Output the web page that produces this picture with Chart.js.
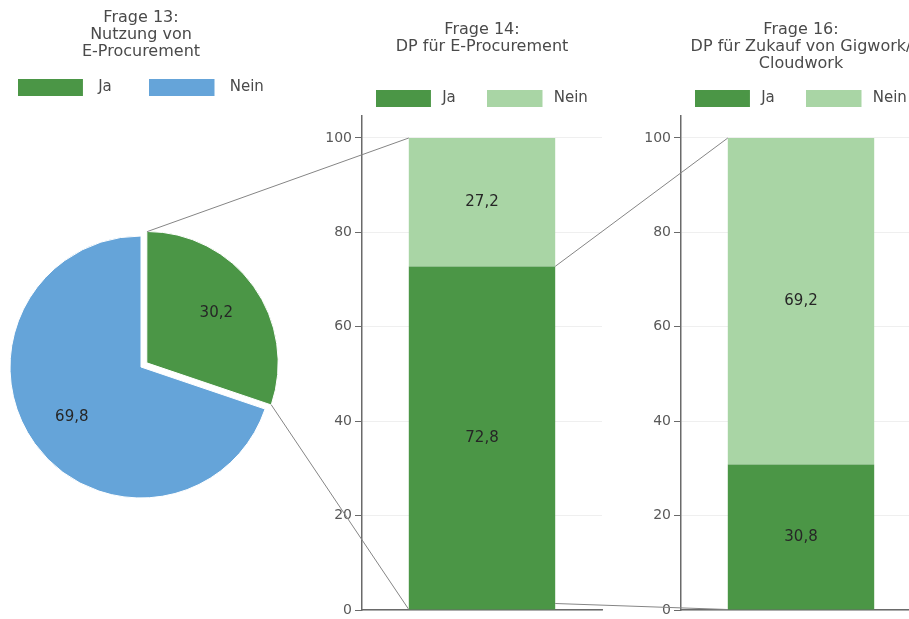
<!DOCTYPE html>
<html><head><meta charset="utf-8">
<script src="https://cdn.jsdelivr.net/npm/chart.js@4.4.1/dist/chart.umd.min.js"></script>
<style>
html,body{margin:0;padding:0;width:909px;height:619px;overflow:hidden;background:#fff;position:relative}
canvas{position:absolute;top:0}
#pie{left:-29px}
#bar1{left:300px}
#bar2{left:619px}
#links{left:0;pointer-events:none}
</style></head><body>
<canvas id="pie" width="340" height="629"></canvas>
<canvas id="bar1" width="364" height="630"></canvas>
<canvas id="bar2" width="364" height="630"></canvas>
<canvas id="links" width="909" height="619"></canvas>
<script>
// ---- data ----
const answerLabels = ['Ja', 'Nein'];
const q13Title = ['Frage 13:', 'Nutzung von', 'E-Procurement'];
const q14Title = ['Frage 14:', 'DP für E-Procurement'];
const q16Title = ['Frage 16:', 'DP für Zukauf von Gigwork/', 'Cloudwork'];
const q13Values = [30.2, 69.8];      // Ja, Nein
const q14Ja = [72.8];
const q14Nein = [27.2];
const q16Ja = [30.8];
const q16Nein = [69.2];
const yTicks = [0, 20, 40, 60, 80, 100];

// ---- style ----
const GREEN = '#4B9646', LIGHT = '#A9D5A5', BLUE = '#65A4D9';
const AXIS = '#6a6a6a', TXT = '#4a4a4a', TICK = '#595959', VAL = '#262626';
Chart.defaults.font.family = '"DejaVu Sans", sans-serif';
Chart.defaults.color = TXT;

function swatch(color, boxW, boxH, fullW) {
  const c = document.createElement('canvas');
  c.width = Math.ceil(fullW); c.height = boxH;
  const x = c.getContext('2d');
  x.fillStyle = color; x.fillRect(0, 0, boxW, boxH);
  return c;
}
function legendCfg(base, colors, boxW, gap, pad) {
  const pw = boxW + gap - 7.5;
  return {
    display: true, position: 'top',
    labels: {
      usePointStyle: true, pointStyleWidth: pw, padding: pad,
      font: { size: 15 }, color: TXT,
      generateLabels(chart) {
        return base(chart).map((it, i) => Object.assign({}, it, { pointStyle: swatch(colors[i], boxW, 17, pw) }));
      }
    }
  };
}
function titleCfg(text, top, bottom) {
  return { display: true, text, color: TXT, font: { size: 16, weight: 'normal', lineHeight: '17px' }, padding: { top, bottom } };
}
function arcShift(el) {
  const O = el.options.offset || 0;
  const fix = 1 - Math.sin(Math.min(Math.PI, el.circumference || 0));
  return O / 4 * (1 + fix);
}
const fmt = v => v.toFixed(1).replace('.', ',');

const valueLabels = {
  id: 'valueLabels',
  afterDatasetsDraw(chart) {
    const ctx = chart.ctx;
    ctx.save();
    ctx.font = '15px "DejaVu Sans", sans-serif';
    ctx.fillStyle = VAL; ctx.textAlign = 'center'; ctx.textBaseline = 'middle';
    chart.data.datasets.forEach((ds, di) => {
      chart.getDatasetMeta(di).data.forEach((el, i) => {
        let x, y;
        if (chart.config.type === 'pie') {
          const mid = (el.startAngle + el.endAngle) / 2;
          const d = arcShift(el) + el.outerRadius * 0.65;
          x = el.x + Math.cos(mid) * d; y = el.y + Math.sin(mid) * d;
        } else {
          x = el.x; y = (el.y + el.base) / 2;
        }
        ctx.fillText(fmt(ds.data[i]), x, y);
      });
    });
    ctx.restore();
  }
};

const pieBase = (Chart.overrides.pie || Chart.overrides.doughnut).plugins.legend.labels.generateLabels;
const barBase = Chart.defaults.plugins.legend.labels.generateLabels;

const pieChart = new Chart(document.getElementById('pie'), {
  type: 'pie',
  data: { labels: answerLabels, datasets: [{ data: q13Values, backgroundColor: [GREEN, BLUE], borderColor: '#fff', borderWidth: 1, offset: [28.5, 0], radius: 131 }] },
  options: {
    responsive: false, animation: false, events: [],
    plugins: {
      title: titleCfg(q13Title, 9.5, -18.5),
      legend: legendCfg(pieBase, [GREEN, BLUE], 65, 15, 38),
      tooltip: { enabled: false }
    }
  },
  plugins: [valueLabels]
});

function barChart(id, title, titleBottom, ja, nein) {
  return new Chart(document.getElementById(id), {
    type: 'bar',
    data: { labels: [''], datasets: [
      { label: answerLabels[0], data: ja, backgroundColor: GREEN },
      { label: answerLabels[1], data: nein, backgroundColor: LIGHT }
    ] },
    options: {
      responsive: false, animation: false, events: [],
      layout: { padding: { bottom: 20 } },
      datasets: { bar: { categoryPercentage: 1, barPercentage: 0.61 } },
      scales: {
        x: { stacked: true, grid: { display: false, drawTicks: false }, ticks: { display: false }, border: { color: AXIS, width: 1.5 } },
        y: { stacked: true, min: 0, max: 104.66,
             afterBuildTicks: s => { s.ticks = yTicks.map(v => ({ value: v })); },
             afterFit: s => { s.width = 62; },
             ticks: { color: TICK, font: { size: 14 }, padding: 3 },
             grid: { color: '#efefef', tickColor: AXIS, tickLength: 7 },
             border: { color: AXIS, width: 1.5 } },
        yR: { position: 'right', display: true, grid: { display: false, drawTicks: false }, ticks: { display: false }, border: { display: false }, afterFit: s => { s.width = 62; } }
      },
      plugins: {
        title: titleCfg(title, 21.5, titleBottom),
        legend: legendCfg(barBase, [GREEN, LIGHT], 55, 11, 32),
        tooltip: { enabled: false }
      }
    },
    plugins: [valueLabels]
  });
}
const bar1 = barChart('bar1', q14Title, 3.5, q14Ja, q14Nein);
const bar2 = barChart('bar2', q16Title, -13.5, q16Ja, q16Nein);

// ---- connector lines ----
(function drawLinks() {
  const ctx = document.getElementById('links').getContext('2d');
  const pl = document.getElementById('pie').offsetLeft;
  const b1l = document.getElementById('bar1').offsetLeft;
  const b2l = document.getElementById('bar2').offsetLeft;
  const arc = pieChart.getDatasetMeta(0).data[0];
  const mid = (arc.startAngle + arc.endAngle) / 2, sh = arcShift(arc);
  const cx = arc.x + Math.cos(mid) * sh + pl, cy = arc.y + Math.sin(mid) * sh;
  const r = arc.outerRadius;
  const p1 = [cx + r * Math.cos(arc.startAngle), cy + r * Math.sin(arc.startAngle)];
  const p2 = [cx + r * Math.cos(arc.endAngle), cy + r * Math.sin(arc.endAngle)];
  const ja1 = bar1.getDatasetMeta(0).data[0], ne1 = bar1.getDatasetMeta(1).data[0];
  const ja2 = bar2.getDatasetMeta(0).data[0], ne2 = bar2.getDatasetMeta(1).data[0];
  const l1 = ja1.x - ja1.width / 2 + b1l, r1 = ja1.x + ja1.width / 2 + b1l;
  const l2 = ja2.x - ja2.width / 2 + b2l;
  ctx.strokeStyle = '#858585'; ctx.lineWidth = 1;
  const seg = (a, b) => { ctx.beginPath(); ctx.moveTo(a[0], a[1]); ctx.lineTo(b[0], b[1]); ctx.stroke(); };
  seg(p1, [l1, ne1.y]);
  seg(p2, [l1, ja1.base]);
  seg([r1, ja1.y], [l2, ne2.y]);
  seg([r1, ja1.base - 6], [l2, ja2.base]);
})();
</script>
</body></html>
